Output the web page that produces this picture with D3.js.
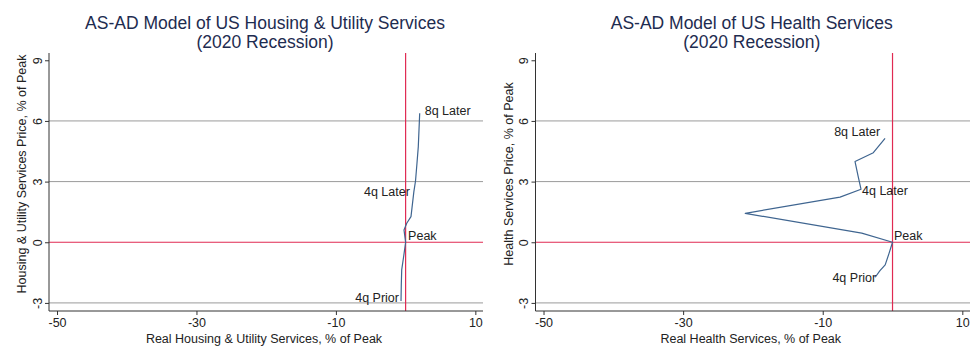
<!DOCTYPE html>
<html>
<head>
<meta charset="utf-8">
<script src="https://cdn.jsdelivr.net/npm/d3@7"></script>
<style>
  html, body { margin: 0; padding: 0; background: #fff; }
  svg { display: block; font-family: "Liberation Sans", Arial, sans-serif; }
</style>
</head>
<body>
<svg id="chart" width="975" height="361"></svg>
<script>
// ---- Data ----
const quarters = [-4, -3, -2, -1, 0, 1, 2, 3, 4, 5, 6, 7, 8];
const pointLabels = ["4q Prior", "", "", "", "Peak", "", "", "", "4q Later", "", "", "", "8q Later"];

const housingX = [-0.66, -0.62, -0.56, -0.27, 0, -0.23, 0.16, 0.77, 1.18, 1.42, 1.63, 1.82, 2.02];
const housingY = [-2.90, -2.11, -1.37, -0.68, 0, 0.61, 0.94, 1.27, 2.49, 3.03, 3.91, 4.73, 6.38];

const healthX = [-2.48, -1.80, -1.05, -0.50, 0, -4.41, -21.1, -7.52, -4.51, -4.94, -5.37, -2.75, -1.07];
const healthY = [-1.73, -1.40, -1.12, -0.55, 0, 0.45, 1.43, 2.23, 2.62, 3.28, 3.99, 4.43, 5.14];

const xTicks = [-50, -30, -10, 10];
const yTicks = [-3, 0, 3, 6, 9];
const xDomain = [-51.15, 11.1];
const yDomain = [-3.4, 9.36];

const panels = [
  {
    title: ["AS-AD Model of US Housing & Utility Services", "(2020 Recession)"],
    xTitle: "Real Housing & Utility Services, % of Peak",
    yTitle: "Housing & Utility Services Price, % of Peak",
    xs: housingX, ys: housingY
  },
  {
    title: ["AS-AD Model of US Health Services", "(2020 Recession)"],
    xTitle: "Real Health Services, % of Peak",
    yTitle: "Health Services Price, % of Peak",
    xs: healthX, ys: healthY
  }
];

// ---- Layout / style ----
const layout = [
  { left: 49, right: 483, labelPos: { "8q Later": [5, -2, "start"], "4q Later": [-4, 0, "end"], "Peak": [2.5, -6, "start"], "4q Prior": [-2, -3, "end"] } },
  { left: 535.5, right: 970, labelPos: { "8q Later": [-5, -6, "end"], "4q Later": [1, 2, "start"], "Peak": [1.5, -6, "start"], "4q Prior": [1, 1, "end"] } }
];
const plotTop = 53, plotBottom = 311;
const red = "#e02a52";
const lineColor = "#3f6590";
const titleColor = "#1e2c50";
const fmt = d => String(d);

const svg = d3.select("#chart");

panels.forEach((p, i) => {
  const L = layout[i];
  const x = d3.scaleLinear().domain(xDomain).range([L.left, L.right]);
  const y = d3.scaleLinear().domain(yDomain).range([plotBottom, plotTop]);
  const g = svg.append("g");

  // gridlines (not at top tick, not at 0)
  g.selectAll(".grid").data(yTicks.filter(t => t !== 0 && t !== 9)).join("line")
    .attr("x1", L.left).attr("x2", L.right)
    .attr("y1", d => y(d)).attr("y2", d => y(d))
    .attr("stroke", "#9a9a9a").attr("stroke-width", 1);

  // red reference lines at zero
  g.append("line").attr("x1", L.left).attr("x2", L.right)
    .attr("y1", y(0)).attr("y2", y(0)).attr("stroke", red).attr("stroke-width", 1.2);
  g.append("line").attr("x1", x(0)).attr("x2", x(0))
    .attr("y1", plotTop).attr("y2", plotBottom).attr("stroke", red).attr("stroke-width", 1.2);

  // axes
  const xAxis = d3.axisBottom(x).tickValues(xTicks).tickSize(4).tickPadding(3).tickFormat(fmt);
  const gx = g.append("g").attr("transform", `translate(0,${plotBottom})`).call(xAxis);
  gx.select(".domain").attr("d", `M${L.left},0H${L.right}`).attr("stroke", "#333");
  gx.selectAll(".tick line").attr("stroke", "#333");
  gx.selectAll("text").attr("font-size", 12.5).attr("fill", "#222")
    .attr("font-family", "Liberation Sans, Arial, sans-serif");

  const yAxis = d3.axisLeft(y).tickValues(yTicks).tickSize(4).tickFormat(fmt);
  const gy = g.append("g").attr("transform", `translate(${L.left},0)`).call(yAxis);
  gy.select(".domain").attr("d", `M0,${plotTop}V${plotBottom}`).attr("stroke", "#333");
  gy.selectAll(".tick line").attr("stroke", "#333");
  gy.selectAll("text")
    .attr("x", 0).attr("dy", null)
    .attr("text-anchor", "middle")
    .attr("dominant-baseline", "central")
    .attr("transform", "translate(-11.5,0) rotate(-90)")
    .attr("font-size", 12.5).attr("fill", "#222")
    .attr("font-family", "Liberation Sans, Arial, sans-serif");

  // axis titles
  g.append("text")
    .attr("x", (L.left + L.right) / 2 - 2).attr("y", 342.5)
    .attr("text-anchor", "middle").attr("font-size", 12.5).attr("fill", "#222")
    .text(p.xTitle);
  g.append("text")
    .attr("transform", `translate(${L.left - 27},174) rotate(-90)`)
    .attr("text-anchor", "middle").attr("dominant-baseline", "central")
    .attr("font-size", 12.5).attr("fill", "#222")
    .text(p.yTitle);

  // chart title
  const cx = L.left + (L.right - L.left) * 0.5 - 1;
  g.append("text").attr("x", cx).attr("y", 29)
    .attr("text-anchor", "middle").attr("font-size", 17.5).attr("fill", titleColor)
    .text(p.title[0]);
  g.append("text").attr("x", cx).attr("y", 48)
    .attr("text-anchor", "middle").attr("font-size", 17.5).attr("fill", titleColor)
    .text(p.title[1]);

  // data path
  const pts = quarters.map((q, k) => ({ q, x: p.xs[k], y: p.ys[k], label: pointLabels[k] }));
  const line = d3.line().x(d => x(d.x)).y(d => y(d.y));
  g.append("path").datum(pts).attr("d", line)
    .attr("fill", "none").attr("stroke", lineColor).attr("stroke-width", 1.2)
    .attr("stroke-linejoin", "round");

  // point labels
  g.selectAll(".plabel").data(pts.filter(d => d.label)).join("text")
    .attr("x", d => x(d.x) + L.labelPos[d.label][0])
    .attr("y", d => y(d.y) + L.labelPos[d.label][1])
    .attr("text-anchor", d => L.labelPos[d.label][2])
    .attr("dominant-baseline", "central")
    .attr("font-size", 12.5).attr("fill", "#222")
    .text(d => d.label);
});
</script>
</body>
</html>
